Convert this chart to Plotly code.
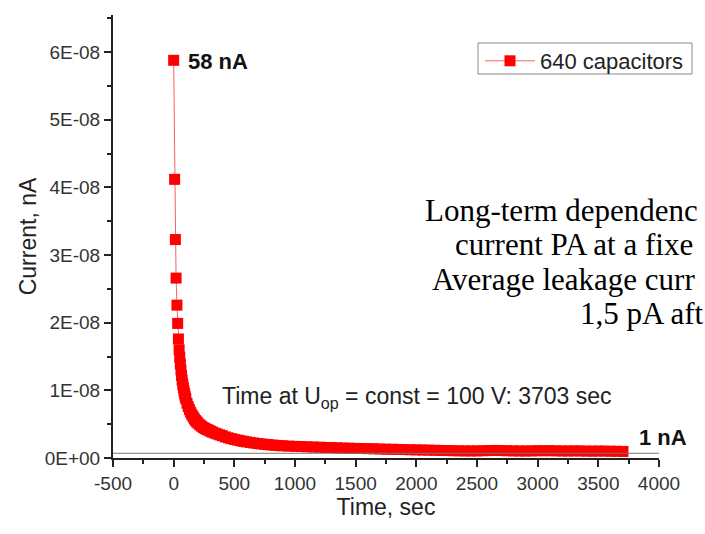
import plotly.graph_objects as go

# ---- data ----
time_s = [0, 8, 14, 20, 27, 33, 39, 45, 50, 55, 60, 65, 70, 75, 80, 85, 90, 95,
          100, 110, 120, 130, 140, 150, 160, 170, 180, 190, 200, 215, 230, 245,
          260, 275, 290, 305, 320, 340, 360, 380, 400, 425, 450, 475, 500, 525,
          550, 575, 600, 630, 660, 690, 720, 750, 780, 810, 840, 870, 900,
          950, 1000, 1050, 1100, 1150, 1200, 1250, 1300, 1350, 1400, 1450, 1500,
          1550, 1600, 1650, 1700, 1750, 1800, 1850, 1900, 1950, 2000, 2050, 2100,
          2150, 2200, 2250, 2300, 2350, 2400, 2450, 2500, 2550, 2600, 2650, 2700,
          2750, 2800, 2850, 2900, 2950, 3000, 3050, 3100, 3150, 3200, 3250, 3300,
          3350, 3400, 3450, 3500, 3550, 3600, 3650, 3703]
current_nA = [58.8, 41.2, 32.3, 26.6, 22.6, 19.9, 17.6, 16.0, 14.9, 13.9, 13.0,
              12.2, 11.5, 10.9, 10.4, 9.9, 9.5, 9.1,
              8.75, 8.1, 7.6, 7.15, 6.75, 6.4, 6.1, 5.8, 5.55, 5.35, 5.15, 4.9,
              4.7, 4.5, 4.35, 4.2, 4.1, 3.95, 3.82, 3.68, 3.55, 3.42, 3.3, 3.12,
              2.98, 2.86, 2.75, 2.65, 2.55, 2.46, 2.38, 2.3, 2.22, 2.14, 2.08,
              2.02, 1.97, 1.92, 1.87, 1.83, 1.8,
              1.76, 1.72, 1.69, 1.66, 1.62, 1.6, 1.56, 1.54, 1.5, 1.47, 1.45, 1.42,
              1.4, 1.38, 1.36, 1.33, 1.3, 1.29, 1.27, 1.25, 1.22, 1.2, 1.18, 1.16,
              1.14, 1.12, 1.1, 1.08, 1.06, 1.05, 1.04, 1.05, 1.07, 1.1, 1.12, 1.1,
              1.07, 1.05, 1.04, 1.03, 1.05, 1.07, 1.08, 1.08, 1.06, 1.04, 1.03, 1.05,
              1.04, 1.02, 1.01, 1.03, 1.02, 1.0, 0.99, 0.97]
series_name = "640 capacitors"

y_tickvals = [0, 1e-8, 2e-8, 3e-8, 4e-8, 5e-8, 6e-8]
y_ticktext = ["0E+00", "1E-08", "2E-08", "3E-08", "4E-08", "5E-08", "6E-08"]
x_tickvals = [-500, 0, 500, 1000, 1500, 2000, 2500, 3000, 3500, 4000]
x_ticktext = ["-500", "0", "500", "1000", "1500", "2000", "2500", "3000", "3500", "4000"]

current_A = [v * 1e-9 for v in current_nA]

# ---- layout geometry (pixels) ----
W, H = 705, 534
L, R, T, B = 113, 46, 15, 76

def px(xp):
    return (xp - L) / (W - L - R)

def py(yp):
    return (H - B - yp) / (H - T - B)

SANS = "Liberation Sans, Arial, sans-serif"
SERIF = "Liberation Serif, Times New Roman, serif"
AX = "#222222"

fig = go.Figure()
fig.add_trace(go.Scatter(
    x=time_s, y=current_A, mode="lines+markers", name=series_name,
    line=dict(color="rgba(255,40,40,0.75)", width=1),
    marker=dict(symbol="square", size=11, color="#ff0000", line=dict(width=0)),
))

# reference line near 1 nA
fig.add_shape(type="line", xref="x", yref="y", x0=-500, x1=4000, y0=0.7e-9, y1=0.7e-9,
              line=dict(color="#777777", width=1))
# legend frame
fig.add_shape(type="rect", xref="paper", yref="paper", x0=px(478), x1=px(692),
              y0=py(74), y1=py(43), line=dict(color="#8a8a8a", width=1),
              fillcolor="rgba(0,0,0,0)", layer="above")

ann = []
ann.append(dict(xref="x", yref="y", x=100, y=5.86e-8, xanchor="left", yanchor="middle",
                text="<b>58 nA</b>", showarrow=False,
                font=dict(family=SANS, size=22, color="#111111")))
ann.append(dict(xref="x", yref="y", x=3820, y=0.31e-8, xanchor="left", yanchor="middle",
                text="<b>1 nA</b>", showarrow=False,
                font=dict(family=SANS, size=22, color="#111111")))
ann.append(dict(xref="x", yref="y", x=380, y=0.9e-8, xanchor="left", yanchor="middle",
                text="Time at U<sub>op</sub> = const = 100 V: 3703 sec", showarrow=False,
                font=dict(family=SANS, size=23, color="#222222")))

# overlay text, as far as it is visible in the (cropped) reference
overlay = [
    ("Long-term dependenc", 423, 210),
    ("current PA at a fixe", 453, 244),
    ("Average leakage curr", 430, 279),
    ("1,5 pA aft", 578, 313),
]
for txt, x0, y0 in overlay:
    ann.append(dict(xref="paper", yref="paper", x=px(x0), y=py(y0), xanchor="left",
                    yanchor="middle", text=txt, showarrow=False,
                    font=dict(family=SERIF, size=31, color="#000000")))

fig.update_layout(
    width=W, height=H,
    margin=dict(l=L, r=R, t=T, b=B, pad=0, autoexpand=False),
    paper_bgcolor="white", plot_bgcolor="white",
    font=dict(family=SANS, size=19, color="#333333"),
    showlegend=True,
    legend=dict(x=px(480), y=py(40), xanchor="left", yanchor="top",
                bgcolor="rgba(0,0,0,0)", borderwidth=0, itemwidth=50,
                font=dict(family=SANS, size=22, color="#222222")),
    annotations=ann,
)

fig.update_xaxes(
    range=[-500, 4000], tickmode="array", tickvals=x_tickvals, ticktext=x_ticktext,
    showline=True, linecolor=AX, linewidth=2, mirror=False,
    ticks="outside", ticklen=7, tickwidth=1.5, tickcolor=AX,
    showgrid=False, zeroline=False, automargin=False,
    tickfont=dict(family=SANS, size=19, color="#333333"),
    minor=dict(tickmode="linear", tick0=-500, dtick=250, ticks="outside", ticklen=4,
               tickwidth=1.5, tickcolor=AX, showgrid=False),
    title=dict(text="Time, sec", font=dict(family=SANS, size=23, color="#222222"), standoff=4),
)
fig.update_yaxes(
    range=[0, 6.55e-8], tickmode="array", tickvals=y_tickvals, ticktext=y_ticktext,
    showline=True, linecolor=AX, linewidth=2, mirror=False,
    ticks="outside", ticklen=7, tickwidth=1.5, tickcolor=AX,
    showgrid=False, zeroline=False, automargin=False,
    tickfont=dict(family=SANS, size=19, color="#333333"),
    minor=dict(tickmode="linear", tick0=0, dtick=0.5e-8, ticks="outside", ticklen=4,
               tickwidth=1.5, tickcolor=AX, showgrid=False),
    title=dict(text="Current, nA", font=dict(family=SANS, size=23, color="#222222"), standoff=2),
)

fig.write_html("out.html", config={"displayModeBar": False},
               post_script="document.body.style.margin='0px';")
